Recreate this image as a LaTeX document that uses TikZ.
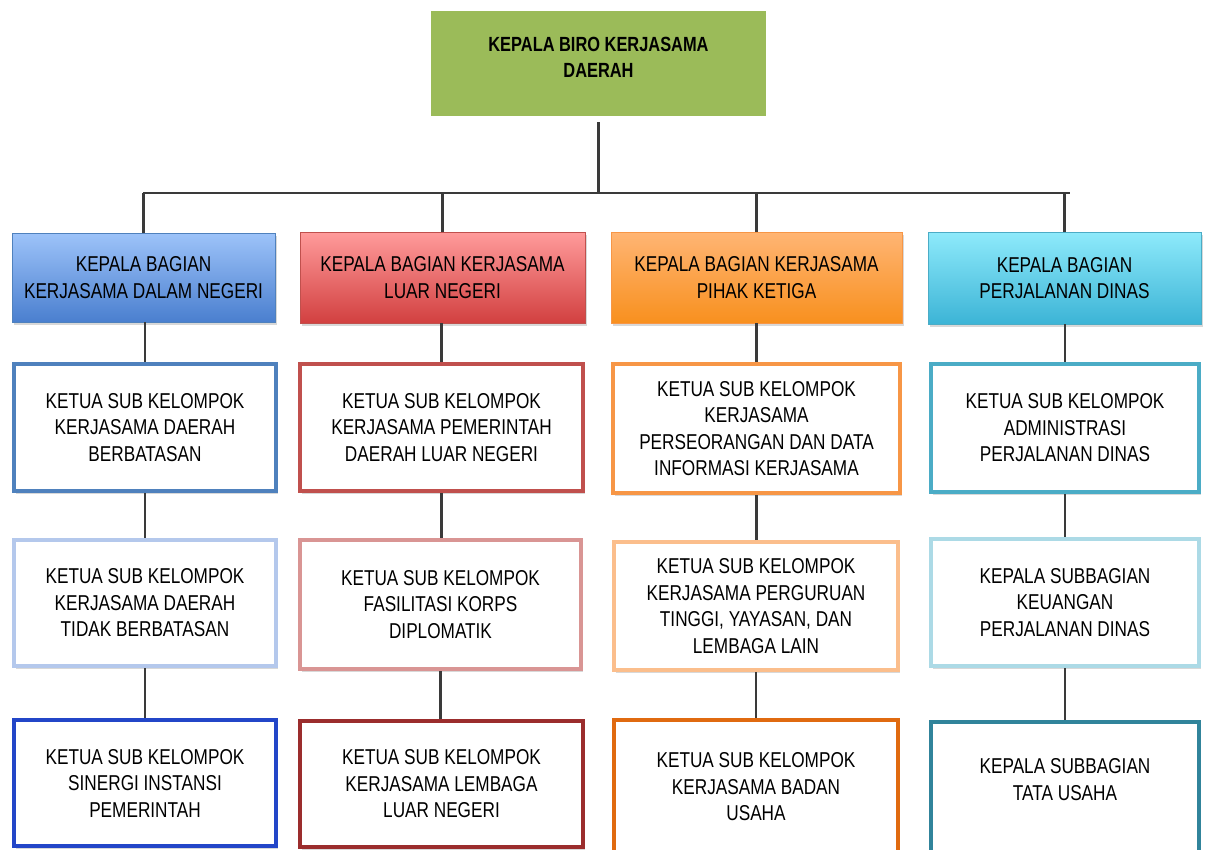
\documentclass[tikz,border=0pt]{standalone}
\usepackage{fontspec}
\setmainfont[FakeStretch=0.8]{Liberation Sans}
\usetikzlibrary{shadows}
\definecolor{linegray}{HTML}{3A3A3A}
\definecolor{topgreen}{HTML}{9BBB59}
\definecolor{hAtop}{HTML}{9DC3F9}\definecolor{hAbot}{HTML}{4A7FCF}\definecolor{hAbrd}{HTML}{4F81BD}
\definecolor{hBtop}{HTML}{FF9B9B}\definecolor{hBbot}{HTML}{D24040}\definecolor{hBbrd}{HTML}{C0504D}
\definecolor{hCtop}{HTML}{FFB574}\definecolor{hCbot}{HTML}{F8901E}\definecolor{hCbrd}{HTML}{F79646}
\definecolor{hDtop}{HTML}{8EEAFB}\definecolor{hDbot}{HTML}{3CB4D6}\definecolor{hDbrd}{HTML}{4BACC6}
\definecolor{rAtwo}{HTML}{4F81BD}\definecolor{rBtwo}{HTML}{C0504D}\definecolor{rCtwo}{HTML}{F79646}\definecolor{rDtwo}{HTML}{4BACC6}
\definecolor{rAthr}{HTML}{B4C8EC}\definecolor{rBthr}{HTML}{D99594}\definecolor{rCthr}{HTML}{FBBE8C}\definecolor{rDthr}{HTML}{ACDAE6}
\definecolor{rAfou}{HTML}{2346C8}\definecolor{rBfou}{HTML}{9B2D2D}\definecolor{rCfou}{HTML}{E06A10}\definecolor{rDfou}{HTML}{31849B}
\begin{document}
\begin{tikzpicture}[x=1pt,y=-1pt,
  conn/.style={draw=linegray, line width=2.1pt},
  shad/.style={drop shadow={shadow xshift=2pt, shadow yshift=-3pt, opacity=0.3}},
  chartfont/.style={font=\fontsize{21.5}{26.5}\selectfont},
  topbox/.style={shad, rectangle, inner sep=0pt, align=center, fill=topgreen, draw=white, line width=6pt,
     font=\bfseries\fontsize{20.5}{26}\selectfont},
  headbox/.style={shad, rectangle, inner sep=0pt, align=center, chartfont, line width=0.8pt},
  subbox/.style={shad, rectangle, fill=white, inner sep=0pt, align=center, chartfont, line width=4pt},
]
\clip (0,0) rectangle (1207,849);
\fill[white] (0,0) rectangle (1207,849);

% top
\node[topbox, minimum width=341, minimum height=111] (top) at (598.5,63.5) {KEPALA BIRO KERJASAMA\\DAERAH\\[-22pt]\strut};

% heads
\node[headbox, top color=hAtop, bottom color=hAbot, draw=hAbrd, minimum width=263, minimum height=89] (h1) at (143.5,277.5) {KEPALA BAGIAN\\KERJASAMA DALAM NEGERI};
\node[headbox, top color=hBtop, bottom color=hBbot, draw=hBbrd, minimum width=285, minimum height=91] (h2) at (442.5,277.5) {KEPALA BAGIAN KERJASAMA\\LUAR NEGERI};
\node[headbox, top color=hCtop, bottom color=hCbot, draw=hCbrd, minimum width=291, minimum height=91] (h3) at (756.5,277.5) {KEPALA BAGIAN KERJASAMA\\PIHAK KETIGA};
\node[headbox, top color=hDtop, bottom color=hDbot, draw=hDbrd, minimum width=273, minimum height=92] (h4) at (1064.5,278) {KEPALA BAGIAN\\PERJALANAN DINAS};

% row 2
\node[subbox, draw=rAtwo, minimum width=262, minimum height=127] (a2) at (145,427.5) {KETUA SUB KELOMPOK\\KERJASAMA DAERAH\\BERBATASAN};
\node[subbox, draw=rBtwo, minimum width=283, minimum height=127] (b2) at (441.5,427.5) {KETUA SUB KELOMPOK\\KERJASAMA PEMERINTAH\\DAERAH LUAR NEGERI};
\node[subbox, draw=rCtwo, minimum width=287, minimum height=129] (c2) at (756.5,428.5) {KETUA SUB KELOMPOK\\KERJASAMA\\PERSEORANGAN DAN DATA\\INFORMASI KERJASAMA};
\node[subbox, draw=rDtwo, minimum width=268, minimum height=128] (d2) at (1065,428) {KETUA SUB KELOMPOK\\ADMINISTRASI\\PERJALANAN DINAS};

% row 3
\node[subbox, draw=rAthr, minimum width=262, minimum height=126] (a3) at (145,603) {KETUA SUB KELOMPOK\\KERJASAMA DAERAH\\TIDAK BERBATASAN};
\node[subbox, draw=rBthr, minimum width=281, minimum height=129] (b3) at (440.5,604.5) {KETUA SUB KELOMPOK\\FASILITASI KORPS\\DIPLOMATIK};
\node[subbox, draw=rCthr, minimum width=284, minimum height=128] (c3) at (756,606) {KETUA SUB KELOMPOK\\KERJASAMA PERGURUAN\\TINGGI, YAYASAN, DAN\\LEMBAGA LAIN};
\node[subbox, draw=rDthr, minimum width=268, minimum height=127] (d3) at (1065,602.5) {KEPALA SUBBAGIAN\\KEUANGAN\\PERJALANAN DINAS};

% row 4
\node[subbox, draw=rAfou, minimum width=262, minimum height=126] (a4) at (145,783) {KETUA SUB KELOMPOK\\SINERGI INSTANSI\\PEMERINTAH};
\node[subbox, draw=rBfou, minimum width=283, minimum height=126] (b4) at (441.5,784) {KETUA SUB KELOMPOK\\KERJASAMA LEMBAGA\\LUAR NEGERI};
\node[subbox, draw=rCfou, minimum width=284, minimum height=134] (c4) at (756,787) {KETUA SUB KELOMPOK\\KERJASAMA BADAN\\USAHA};
\node[subbox, draw=rDfou, minimum width=268, minimum height=134] (d4) at (1065,789) {\\KEPALA SUBBAGIAN\\TATA USAHA\\[-4pt]\strut};

% bus
\coordinate (busL) at (143,193);
\coordinate (busR) at (1070,193);
\draw[conn] (top.south) -- (top.south |- busL);
\draw[conn] (busL) -- (busR);
\draw[conn] (h1.north |- busL) -- (h1.north);
\draw[conn] (h2.north |- busL) -- (h2.north);
\draw[conn] (h3.north |- busL) -- (h3.north);
\draw[conn] (h4.north |- busL) -- (h4.north);

% column links
\draw[conn] (a2.north |- h1.south) -- (a2.north);
\draw[conn] (a2.south) -- (a3.north);
\draw[conn] (a3.south) -- (a4.north);
\draw[conn] (b2.north |- h2.south) -- (b2.north);
\draw[conn] (b2.south) -- (b2.south |- b3.north);
\draw[conn] (b3.south) -- (b3.south |- b4.north);
\draw[conn] (c2.north |- h3.south) -- (c2.north);
\draw[conn] (c2.south) -- (c2.south |- c3.north);
\draw[conn] (c3.south) -- (c3.south |- c4.north);
\draw[conn] (d2.north |- h4.south) -- (d2.north);
\draw[conn] (d2.south) -- (d3.north);
\draw[conn] (d3.south) -- (d4.north);
\end{tikzpicture}
\end{document}
